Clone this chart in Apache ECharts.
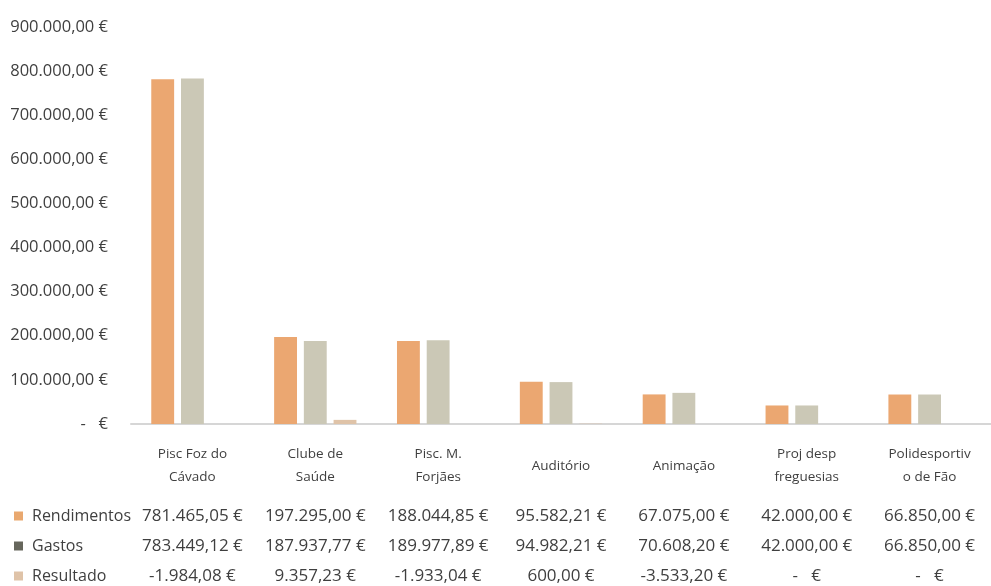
<!DOCTYPE html>
<html>
<head>
<meta charset="utf-8">
<script src="https://cdn.jsdelivr.net/npm/echarts@6/dist/echarts.min.js"></script>
<style>html,body{margin:0;padding:0;background:#fff}#c{width:991px;height:586px}</style>
</head>
<body>
<div id="c"></div>
<script>
var categories = ["Pisc Foz do\nCávado", "Clube de\nSaúde", "Pisc. M.\nForjães", "Auditório", "Animação", "Proj desp\nfreguesias", "Polidesportiv\no de Fão"];
var rendimentos = [781465.05, 197295.00, 188044.85, 95582.21, 67075.00, 42000.00, 66850.00];
var gastos = [783449.12, 187937.77, 189977.89, 94982.21, 70608.20, 42000.00, 66850.00];
var resultado = [-1984.08, 9357.23, -1933.04, 600.00, -3533.20, 0, 0];
var seriesNames = ["Rendimentos", "Gastos", "Resultado"];

function fmtEuro(v, zero) {
  if (Math.abs(v) < 0.005) return zero;
  var neg = v < 0;
  var s = Math.abs(v).toFixed(2).split(".");
  var ip = s[0].replace(/\B(?=(\d{3})+(?!\d))/g, ".");
  return (neg ? "-" : "") + ip + "," + s[1] + " €";
}

var textColor = "#3f3f3f";
var font = "Open Sans";
var rows = [rendimentos, gastos, resultado];
var rowOffsets = [92, 122, 152];

var xAxes = [{
  type: "category", data: categories, gridIndex: 0, position: "bottom",
  axisLine: {show: true, lineStyle: {color: "#d6d6d6", width: 2}},
  axisTick: {show: false},
  axisLabel: {margin: 42, verticalAlign: "middle", color: textColor, fontFamily: font, fontSize: 13.5, lineHeight: 23, interval: 0}
}];
rows.forEach(function (arr, i) {
  xAxes.push({
    type: "category", data: categories, gridIndex: 0, position: "bottom", offset: rowOffsets[i],
    axisLine: {show: false}, axisTick: {show: false}, splitLine: {show: false},
    axisLabel: {margin: 0, verticalAlign: "middle", color: textColor, fontFamily: font, fontSize: 17, interval: 0,
      formatter: function (val, idx) { return fmtEuro(arr[idx], "-   €"); }}
  });
});

var chart = echarts.init(document.getElementById("c"));
chart.setOption({
  animation: false,
  grid: {left: 131, right: -11, top: 27, bottom: 162, containLabel: false},
  legend: {
    orient: "vertical", left: 14, top: 507, padding: 0, itemWidth: 9, itemHeight: 9, itemGap: 12,
    icon: "rect",
    textStyle: {color: textColor, fontFamily: font, fontSize: 16, lineHeight: 18, padding: [0, 0, 0, 4]},
    data: [
      {name: "Rendimentos", itemStyle: {color: "#e9a86f"}},
      {name: "Gastos", itemStyle: {color: "#66665c"}},
      {name: "Resultado", itemStyle: {color: "#dfc3a8"}}
    ]
  },
  xAxis: xAxes,
  yAxis: {
    type: "value", min: 0, max: 900000, interval: 100000,
    axisLine: {show: false}, axisTick: {show: false}, splitLine: {show: false},
    axisLabel: {margin: 23, color: textColor, fontFamily: font, fontSize: 16.5, formatter: function (v) { return fmtEuro(v, "-   €"); }}
  },
  series: [
    {name: seriesNames[0], type: "bar", data: rendimentos, barGap: "30%", barCategoryGap: "33%", itemStyle: {color: "#eba771"}},
    {name: seriesNames[1], type: "bar", data: gastos, itemStyle: {color: "#cbc8b6"}},
    {name: seriesNames[2], type: "bar", data: resultado, itemStyle: {color: "#dfc3a8"}}
  ]
});
</script>
</body>
</html>
